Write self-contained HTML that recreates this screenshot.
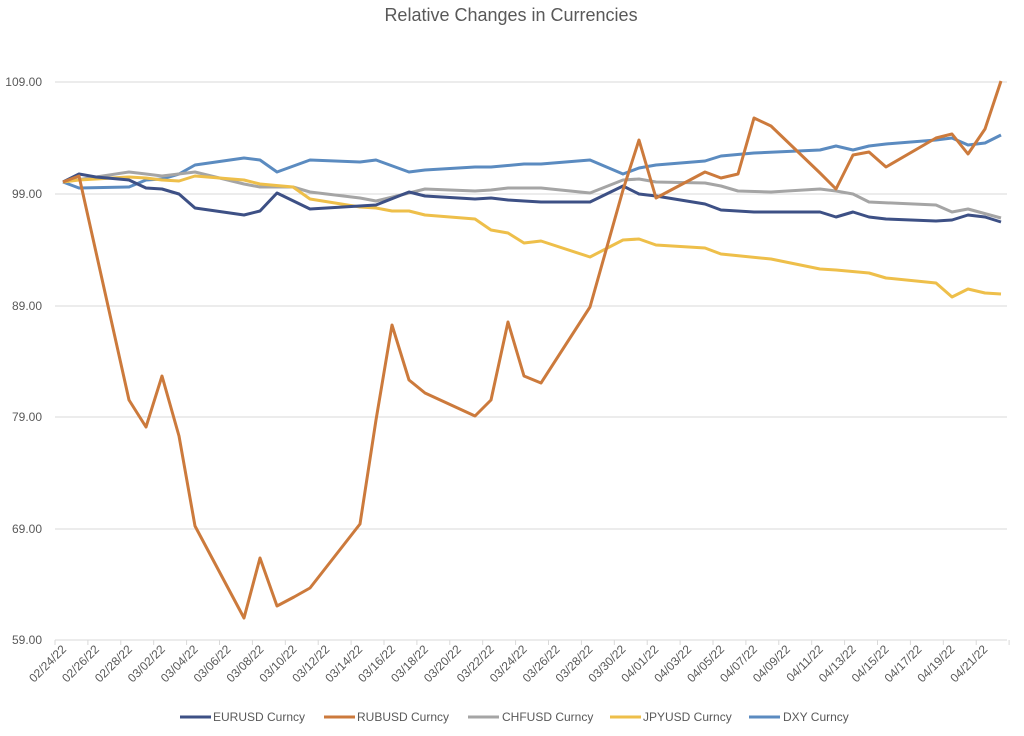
<!DOCTYPE html><html><head><meta charset="utf-8"><style>body{margin:0;background:#fff}svg{display:block;font-family:"Liberation Sans",sans-serif}</style></head><body>
<svg width="1024" height="736" xmlns="http://www.w3.org/2000/svg">
<text x="511" y="21" text-anchor="middle" font-size="18" fill="#595959">Relative Changes in Currencies</text>
<g stroke="#d9d9d9" stroke-width="1">
<line x1="55" x2="1007" y1="82" y2="82"/><line x1="55" x2="1007" y1="194" y2="194"/><line x1="55" x2="1007" y1="306" y2="306"/><line x1="55" x2="1007" y1="417" y2="417"/><line x1="55" x2="1007" y1="529" y2="529"/><line x1="55" x2="1007" y1="640" y2="640"/>
</g>
<g font-size="12" fill="#595959" text-anchor="end">
<text x="42" y="86">109.00</text><text x="42" y="198">99.00</text><text x="42" y="310">89.00</text><text x="42" y="421">79.00</text><text x="42" y="533">69.00</text><text x="42" y="644">59.00</text>
</g>
<g id="ticks" stroke="#d9d9d9"></g>
<g id="xl" font-size="12" fill="#595959" text-anchor="end"></g>
<g fill="none" stroke-width="3" stroke-linejoin="round">
<polyline stroke="#5b8bc0" points="63,182 79,188 129,187 146,180 162,179 179,174 195,165 244,158 260,160 277,172 310,160 360,162 376,160 409,172 425,170 475,167 491,167 524,164 541,164 590,160 623,174 639,168 656,165 705,161 721,156 754,153 820,150 836,146 853,150 869,146 886,144 936,140 952,138 968,145 985,143 1001,135"/>
<polyline stroke="#a5a5a5" points="63,182 96,177 129,172 146,174 162,176 195,172 244,184 260,187 293,187 310,192 360,198 376,201 409,193 425,189 475,191 491,190 508,188 541,188 590,193 623,180 639,179 656,182 705,183 721,186 738,191 771,192 820,189 836,191 853,194 869,202 936,205 952,212 968,209 1001,218"/>
<polyline stroke="#eebf4a" points="63,182 79,180 129,177 146,178 162,180 179,181 195,176 244,180 260,184 293,187 310,199 360,207 376,208 392,211 409,211 425,215 475,219 491,230 508,233 524,243 541,241 590,257 623,240 639,239 656,245 705,248 721,254 771,259 820,269 836,270 869,273 886,278 936,283 952,297 968,289 985,293 1001,294"/>
<polyline stroke="#3d5085" points="63,182 79,174 96,177 129,180 146,188 162,189 179,194 195,208 244,215 260,211 277,193 310,209 343,207 376,205 409,192 425,196 475,199 491,198 508,200 524,201 541,202 590,202 623,186 639,194 656,196 705,204 721,210 754,212 820,212 836,217 853,212 869,217 886,219 936,221 952,220 968,215 985,217 1001,222"/>
<polyline stroke="#cc7a3c" points="63,182 79,176 129,400 146,427 162,376 179,436 195,526 244,618 260,558 277,606 294,597 310,588 360,524 376,420 392,325 409,380 425,393 475,416 491,400 508,322 524,376 541,383 590,307 623,190 639,140 656,198 705,172 721,178 738,174 754,118 771,126 820,173 836,189 853,155 869,152 886,167 936,138 952,134 968,154 985,129 1001,81"/>
</g>
<g font-size="12" fill="#595959">
<line x1="180" x2="211" y1="717" y2="717" stroke="#3d5085" stroke-width="3"/><text x="213" y="721">EURUSD Curncy</text>
<line x1="324" x2="355" y1="717" y2="717" stroke="#cc7a3c" stroke-width="3"/><text x="357" y="721">RUBUSD Curncy</text>
<line x1="468" x2="499" y1="717" y2="717" stroke="#a5a5a5" stroke-width="3"/><text x="502" y="721">CHFUSD Curncy</text>
<line x1="610" x2="641" y1="717" y2="717" stroke="#eebf4a" stroke-width="3"/><text x="643" y="721">JPYUSD Curncy</text>
<line x1="749" x2="780" y1="717" y2="717" stroke="#5b8bc0" stroke-width="3"/><text x="783" y="721">DXY Curncy</text>
</g>
<script>
var ns="http://www.w3.org/2000/svg",t=document.getElementById("ticks"),xl=document.getElementById("xl");
for(var k=0;k<=29;k++){var x=55+k*32.9;var l=document.createElementNS(ns,"line");l.setAttribute("x1",x);l.setAttribute("x2",x);l.setAttribute("y1",640);l.setAttribute("y2",645);t.appendChild(l);}
var d=new Date(2022,1,24);
for(var i=0;i<58;i+=2){var dd=new Date(d.getTime()+i*86400000+3600000);var s=("0"+(dd.getMonth()+1)).slice(-2)+"/"+("0"+dd.getDate()).slice(-2)+"/22";var x=63+i*16.45+4;var tx=document.createElementNS(ns,"text");tx.setAttribute("transform","translate("+x+",650) rotate(-45)");tx.textContent=s;xl.appendChild(tx);}
</script>
</svg></body></html>
